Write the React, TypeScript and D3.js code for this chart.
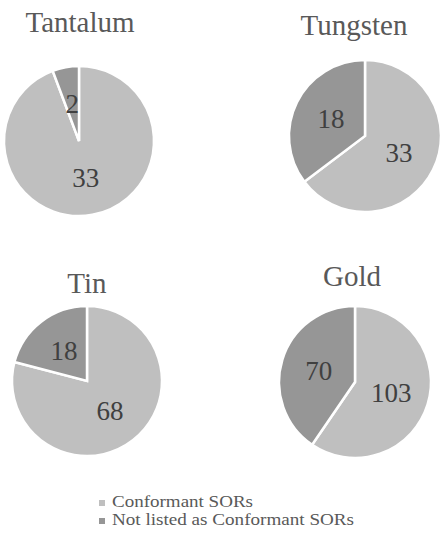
import React from "react";
import * as d3 from "d3";

const minerals = ["Tantalum", "Tungsten", "Tin", "Gold"];
const conformant = [33, 33, 68, 103];
const notListed = [2, 18, 18, 70];
const seriesNames = ["Conformant SORs", "Not listed as Conformant SORs"];

const colors = ["#bfbfbf", "#969696"];
const serif = "'Liberation Serif', 'DejaVu Serif', serif";

// where each pie sits on the page
const layout = [
  { cx: 79, cy: 141, r: 75, tx: 80, ty: 32 },
  { cx: 365, cy: 136, r: 76, tx: 354, ty: 35 },
  { cx: 87, cy: 381, r: 75, tx: 87, ty: 293 },
  { cx: 355, cy: 382, r: 76, tx: 352, ty: 286 },
];
// legend text widths as measured on the reference
const legendWidths = [141, 242];

export default function App() {
  const pie = d3
    .pie<number>()
    .sort(null)
    .value((d) => d);

  return (
    <svg
      width={448}
      height={536}
      style={{ position: "absolute", left: 0, top: 0, background: "#fff", fontFamily: serif }}
    >
      {minerals.map((name, i) => {
        const L = layout[i];
        const arcs = pie([conformant[i], notListed[i]]);
        const arc = d3.arc<d3.PieArcDatum<number>>().innerRadius(0).outerRadius(L.r);
        return (
          <g key={name}>
            <text
              x={L.tx}
              y={L.ty}
              textAnchor="middle"
              style={{ fontFamily: serif, fontSize: 29 }}
              fill="#595959"
            >
              {name}
            </text>
            <g transform={`translate(${L.cx},${L.cy})`}>
              {arcs.map((a, j) => (
                <path
                  key={j}
                  d={arc(a) || ""}
                  fill={colors[j]}
                  stroke="#fff"
                  strokeWidth={2.5}
                />
              ))}
              {arcs.map((a, j) => {
                const mid = (a.startAngle + a.endAngle) / 2;
                const k = L.r * 0.5;
                return (
                  <text
                    key={"l" + j}
                    x={Math.sin(mid) * k}
                    y={-Math.cos(mid) * k + 9}
                    textAnchor="middle"
                    style={{ fontFamily: serif, fontSize: 27 }}
                    fill="#404040"
                  >
                    {a.data}
                  </text>
                );
              })}
            </g>
          </g>
        );
      })}
      <g>
        {seriesNames.map((s, j) => (
          <g key={s} transform={`translate(99,${501 + j * 18})`}>
            <rect x={0} y={-1} width={6} height={6} fill={colors[j]} />
            <text
              x={13}
              y={6}
              textLength={legendWidths[j]}
              lengthAdjust="spacingAndGlyphs"
              style={{ fontFamily: serif, fontSize: 16 }}
              fill="#595959"
            >
              {s}
            </text>
          </g>
        ))}
      </g>
    </svg>
  );
}
